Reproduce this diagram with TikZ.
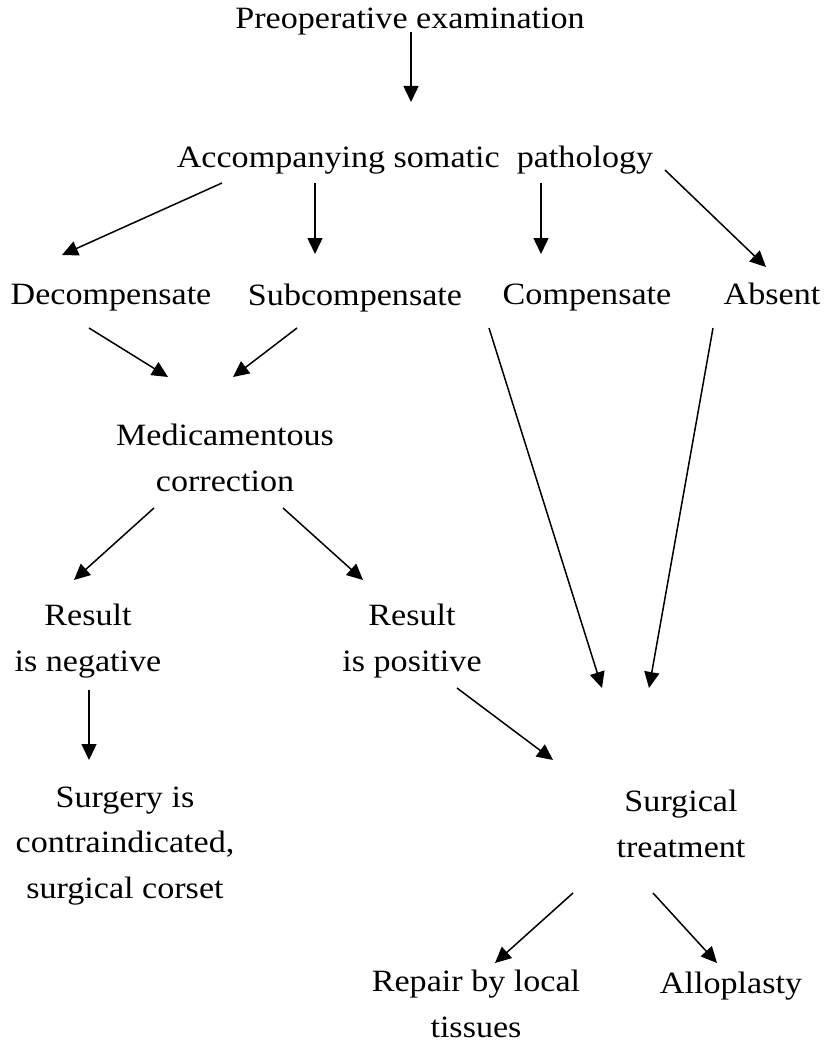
\documentclass[tikz,border=0pt]{standalone}
\usepackage{fontspec}
\setmainfont[FakeStretch=1.1]{Liberation Serif}
\usetikzlibrary{arrows.meta,positioning}

\begin{document}
\begin{tikzpicture}[x=1pt, y=-1pt,
    every node/.style={inner sep=0pt, align=center, font=\fontsize{31}{45.5}\selectfont},
    arr/.style={-{Triangle[length=16pt,width=15pt]}, line width=1.5pt}]
    \useasboundingbox (0,0) rectangle (828,1043);

    % Text nodes
    \node (prep) at (410,22) {Preoperative examination};
    \node (acc) at (415,160) {Accompanying somatic~ pathology};
    \node (dec) at (111,298) {Decompensate};
    \node (sub) at (355,298) {Subcompensate};
    \node (comp) at (587,298) {Compensate};
    \node (abs) at (772,294) {Absent};
    \node (med) at (225,458) {Medicamentous\\correction};
    \node (resn) at (88,641) {Result\\is negative};
    \node (resp) at (412,641) {Result\\is positive};
    \node (contra) at (125,846) {Surgery is\\contraindicated,\\surgical corset};
    \node (treat) at (681,824) {Surgical\\treatment};
    \node (repair) at (476,1004) {Repair by local\\tissues};
    \node (allo) at (731,986) {Alloplasty};

    % Arrows
    \draw[arr] ([shift={(1,10)}]prep.center) -- ([shift={(-4,-58)}]acc.center);
    \draw[arr] ([shift={(-193,23)}]acc.center) -- ([shift={(-49,-43)}]dec.center);
    \draw[arr] ([shift={(-100,23)}]acc.center) -- ([shift={(-40,-44)}]sub.center);
    \draw[arr] ([shift={(126,23)}]acc.center) -- ([shift={(-46,-44)}]comp.center);
    \draw[arr] ([shift={(250,10)}]acc.center) -- ([shift={(-6,-27)}]abs.center);
    \draw[arr] ([shift={(-22,30)}]dec.center) -- ([shift={(-57,-81)}]med.center);
    \draw[arr] ([shift={(-58,30)}]sub.center) -- ([shift={(8,-81)}]med.center);
    \draw[arr] ([shift={(-98,30)}]comp.center) -- ([shift={(-79,-136)}]treat.center);
    \draw[arr] ([shift={(-59,34)}]abs.center) -- ([shift={(-32,-136)}]treat.center);
    \draw[arr] ([shift={(-71,50)}]med.center) -- ([shift={(-14,-61)}]resn.center);
    \draw[arr] ([shift={(58,50)}]med.center) -- ([shift={(-49,-61)}]resp.center);
    \draw[arr] ([shift={(1,49)}]resn.center) -- ([shift={(-36,-86)}]contra.center);
    \draw[arr] ([shift={(45,47)}]resp.center) -- ([shift={(-128,-64)}]treat.center);
    \draw[arr] ([shift={(-108,69)}]treat.center) -- ([shift={(19,-41)}]repair.center);
    \draw[arr] ([shift={(-28,69)}]treat.center) -- ([shift={(-14,-23)}]allo.center);
\end{tikzpicture}
\end{document}
